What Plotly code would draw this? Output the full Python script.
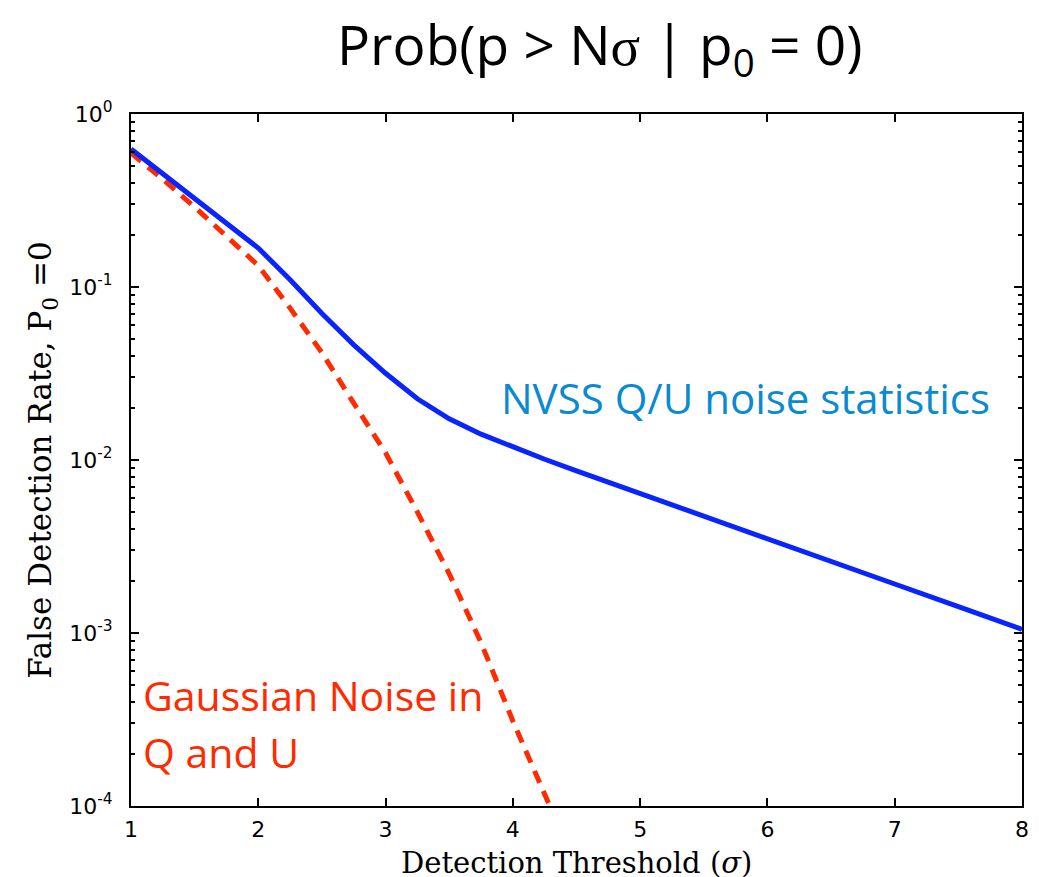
import plotly.graph_objects as go

# Detection threshold in units of sigma
nvss_x = [1.0, 1.5, 2.0, 2.25, 2.5, 2.75, 3.0, 3.25, 3.5, 3.75, 4.0, 4.25, 4.5,
          5.0, 5.5, 6.0, 6.5, 7.0, 7.5, 8.0]
# False detection rate measured from NVSS Q/U noise
nvss_rate = [0.627, 0.325, 0.168, 0.110, 0.0702, 0.0463, 0.0317, 0.0226, 0.0173, 0.0141,
             0.0119, 0.0101, 0.00865, 0.00638, 0.00473, 0.00351, 0.0026, 0.00192,
             0.00142, 0.00105]

gauss_x = [1.0, 1.25, 1.5, 1.75, 2.0, 2.25, 2.5, 2.75, 3.0, 3.25, 3.5, 3.75, 4.0, 4.29]
# False detection rate for pure Gaussian noise in Q and U
gauss_rate = [0.595, 0.42, 0.29, 0.195, 0.133, 0.0755, 0.0417, 0.0213, 0.011, 0.005,
              0.0022, 0.00088, 0.00031, 0.0001]

x_ticks = [1, 2, 3, 4, 5, 6, 7, 8]
y_ticks = [1e-4, 1e-3, 1e-2, 1e-1, 1e0]
y_tick_text = ["10<sup>-4</sup>", "10<sup>-3</sup>", "10<sup>-2</sup>", "10<sup>-1</sup>", "10<sup>0</sup>"]

fig = go.Figure()
fig.add_trace(go.Scatter(x=gauss_x, y=gauss_rate, mode="lines",
                         line=dict(color="#ff2a00", width=5, dash="13px,9px"),
                         showlegend=False))
fig.add_trace(go.Scatter(x=nvss_x, y=nvss_rate, mode="lines",
                         line=dict(color="#0a24ff", width=5),
                         showlegend=False))

axis_common = dict(showline=True, linecolor="black", linewidth=2, mirror="ticks",
                   ticks="inside", tickcolor="black", showgrid=False, zeroline=False,
                   tickfont=dict(family="DejaVu Sans", size=22, color="black"))

fig.update_xaxes(range=[1, 8], tickvals=x_ticks, ticklen=8, tickwidth=1.5,
                 ticklabelstandoff=3, automargin=False,
                 **axis_common)
fig.update_yaxes(type="log", range=[-4, 0], tickvals=y_ticks, ticktext=y_tick_text,
                 ticklen=8, tickwidth=1.5, ticklabelstandoff=12,
                 minor=dict(ticks="inside", ticklen=4, tickcolor="black", tickwidth=1.5,
                            dtick="D1", showgrid=False),
                 title=dict(text="False Detection Rate, P<sub>0</sub> =0",
                            font=dict(family="DejaVu Serif", size=31, color="black"),
                            standoff=8),
                 **axis_common)

# x-axis title, placed below the tick labels
fig.add_annotation(xref="paper", yref="paper", x=0.5, y=-0.083, showarrow=False,
                   text="Detection Threshold (<i>σ</i>)",
                   font=dict(family="DejaVu Serif", size=29, color="black"),
                   xanchor="center", yanchor="middle")

fig.add_annotation(xref="paper", yref="paper", x=0.526, y=1.097, showarrow=False,
                   text="Prob(p > N<span style='font-family:Liberation Serif'>σ</span> | p<sub>0</sub> = 0)",
                   font=dict(family="Open Sans", size=55, color="black"),
                   xanchor="center", yanchor="middle")
fig.add_annotation(x=3.89, y=-1.636, showarrow=False, text="NVSS Q/U noise statistics",
                   font=dict(family="Open Sans", size=42, color="#0a8ad0"),
                   xanchor="left", yanchor="middle")
fig.add_annotation(x=1.08, y=-3.36, showarrow=False, text="Gaussian Noise in",
                   font=dict(family="Open Sans", size=41, color="#ff2a00"),
                   xanchor="left", yanchor="middle")
fig.add_annotation(x=1.08, y=-3.69, showarrow=False, text="Q and U",
                   font=dict(family="Open Sans", size=41, color="#ff2a00"),
                   xanchor="left", yanchor="middle")

fig.update_layout(width=1039, height=877, margin=dict(l=131, r=17, t=114, b=71),
                  paper_bgcolor="white", plot_bgcolor="white")

fig.write_html("out.html")
